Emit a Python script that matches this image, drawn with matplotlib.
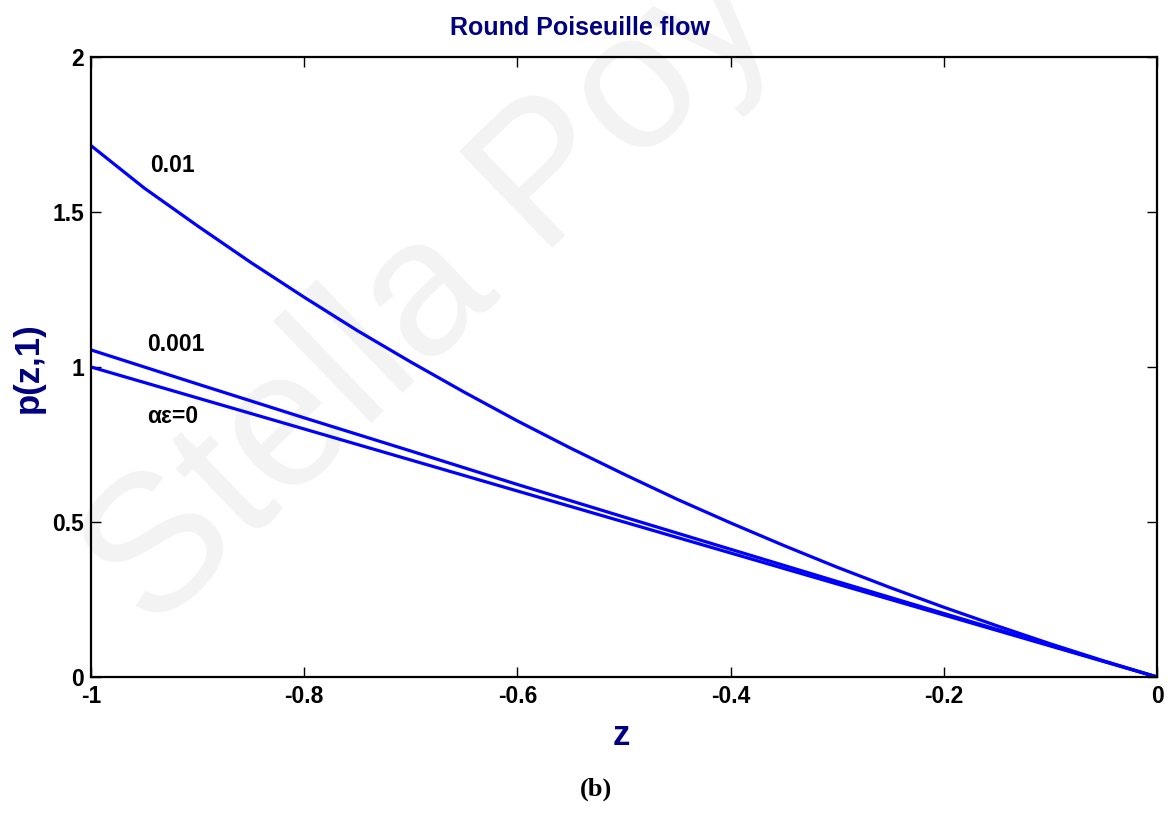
import matplotlib
matplotlib.use('Agg')
import matplotlib.pyplot as plt
import numpy as np

# values
z_fine = [-1.0, -0.95, -0.9, -0.85, -0.8, -0.75, -0.7, -0.65, -0.6, -0.55, -0.5,
          -0.45, -0.4, -0.35, -0.3, -0.25, -0.2, -0.15, -0.1, -0.05, 0.0]
p_01 = [1.714, 1.577, 1.455, 1.337, 1.225, 1.117, 1.016, 0.919, 0.826, 0.738, 0.654,
        0.573, 0.497, 0.424, 0.354, 0.288, 0.225, 0.165, 0.107, 0.052, 0.0]

z = [-1.0, -0.9, -0.8, -0.7, -0.6, -0.5, -0.4, -0.3, -0.2, -0.1, 0.0]
p_0 = [1.0, 0.9, 0.8, 0.7, 0.6, 0.5, 0.4, 0.3, 0.2, 0.1, 0.0]
p_001 = [1.055, 0.945, 0.836, 0.729, 0.621, 0.516, 0.412, 0.308, 0.205, 0.102, 0.0]

xticks = [-1, -0.8, -0.6, -0.4, -0.2, 0]
xticklabels = ['-1', '-0.8', '-0.6', '-0.4', '-0.2', '0']
yticks = [0, 0.5, 1, 1.5, 2]
yticklabels = ['0', '0.5', '1', '1.5', '2']

plt.rcParams['font.family'] = ['Liberation Sans', 'DejaVu Sans']
navy = '#000080'
blue = '#0000ff'

fig = plt.figure(figsize=(11.73, 8.14), dpi=100)
ax = fig.add_axes([0.0776, 0.1683, 0.9088, 0.7617])
ax.set_zorder(1)
ax.patch.set_alpha(0)

# watermark
fig.text(0.1296, 0.221, 'Stella Poy', fontsize=140, color='#f3f3f3',
         rotation=44, rotation_mode='anchor', ha='left', va='baseline', zorder=0)

ax.plot(z, p_0, color=blue, lw=2.3)
ax.plot(z, p_001, color=blue, lw=2.3)
ax.plot(z_fine, p_01, color=blue, lw=2.3)

ax.set_xlim(-1, 0)
ax.set_ylim(0, 2)
ax.set_xticks(xticks)
ax.set_xticklabels(xticklabels)
ax.set_yticks(yticks)
ax.set_yticklabels(yticklabels)
ax.tick_params(direction='in', length=7, width=1, top=True, right=True,
               labelsize=16.5)
ax.tick_params(axis='x', pad=6)
ax.tick_params(axis='y', pad=5)
for lab in ax.get_xticklabels() + ax.get_yticklabels():
    lab.set_fontweight('bold')
for sp in ax.spines.values():
    sp.set_linewidth(1.6)

ax.text(-0.945, 1.63, '0.01', fontsize=16.5, fontweight='bold')
ax.text(-0.947, 1.05, '0.001', fontsize=16.5, fontweight='bold')
ax.text(-0.947, 0.82, 'αε=0', fontsize=16.5, fontweight='bold')

fig.text(0.4945, 0.957, 'Round Poiseuille flow', fontsize=18, fontweight='bold',
         color=navy, ha='center', va='baseline')
fig.text(0.024, 0.548, 'p(z,1)', fontsize=25, fontweight='bold', color=navy,
         rotation=90, ha='center', va='center')
fig.text(0.530, 0.097, 'z', fontsize=25, fontweight='bold', color=navy,
         ha='center', va='center')
fig.text(0.508, 0.030, '(b)', fontsize=19, fontweight='bold', family='Liberation Serif',
         ha='center', va='center')

fig.savefig('out.png', dpi=100)
